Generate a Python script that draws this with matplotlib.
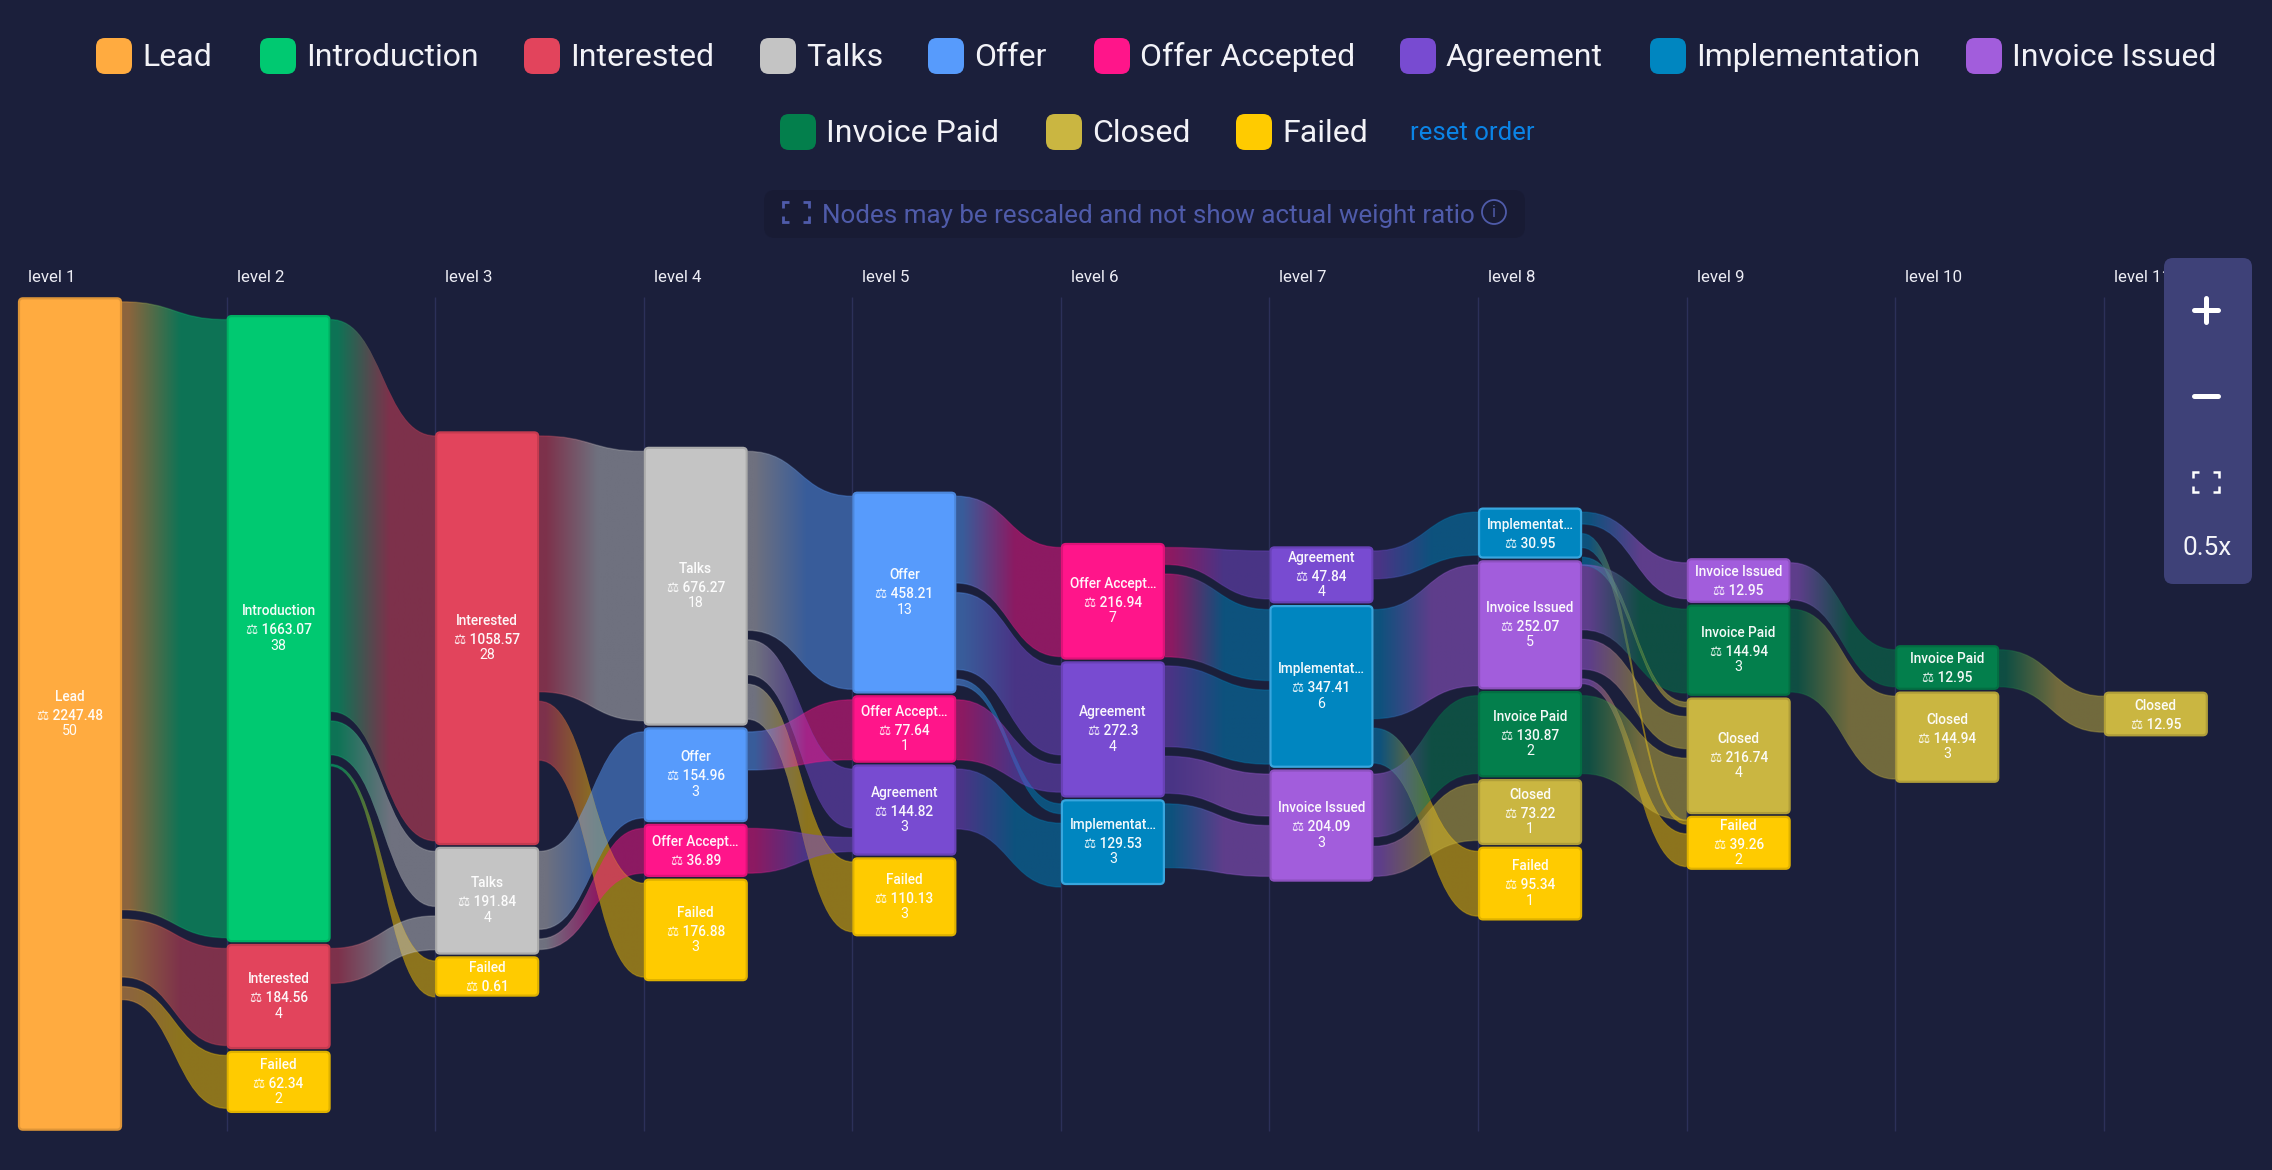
import numpy as np
import matplotlib
matplotlib.use("Agg")
import matplotlib.pyplot as plt
from matplotlib.colors import to_rgb
from matplotlib.patches import FancyBboxPatch, PathPatch, Circle
from matplotlib.path import Path

# ---------- data ----------
STAGES = ["Lead", "Introduction", "Interested", "Talks", "Offer", "Offer Accepted",
          "Agreement", "Implementation", "Invoice Issued", "Invoice Paid", "Closed", "Failed"]
STAGE_COLORS = ["#FFAB40", "#00C971", "#E2445C", "#C4C4C4", "#579BFC", "#FF158A",
                "#784BD1", "#0086C0", "#A25DDC", "#037F4C", "#CAB641", "#FFCB00"]
SHORT_LABELS = {"Implementation": "Implementat…", "Offer Accepted": "Offer Accept…"}

NODE_LEVEL = [1, 2, 2, 2, 3, 3, 3, 4, 4, 4, 4, 5, 5, 5, 5, 6, 6, 6, 7, 7, 7,
              8, 8, 8, 8, 8, 9, 9, 9, 9, 10, 10, 11]
NODE_STAGE = ["Lead",
              "Introduction", "Interested", "Failed",
              "Interested", "Talks", "Failed",
              "Talks", "Offer", "Offer Accepted", "Failed",
              "Offer", "Offer Accepted", "Agreement", "Failed",
              "Offer Accepted", "Agreement", "Implementation",
              "Agreement", "Implementation", "Invoice Issued",
              "Implementation", "Invoice Issued", "Invoice Paid", "Closed", "Failed",
              "Invoice Issued", "Invoice Paid", "Closed", "Failed",
              "Invoice Paid", "Closed",
              "Closed"]
NODE_VALUE = [2247.48,
              1663.07, 184.56, 62.34,
              1058.57, 191.84, 0.61,
              676.27, 154.96, 36.89, 176.88,
              458.21, 77.64, 144.82, 110.13,
              216.94, 272.3, 129.53,
              47.84, 347.41, 204.09,
              30.95, 252.07, 130.87, 73.22, 95.34,
              12.95, 144.94, 216.74, 39.26,
              12.95, 144.94,
              12.95]
NODE_COUNT = [50,
              38, 4, 2,
              28, 4, None,
              18, 3, None, 3,
              13, 1, 3, 3,
              7, 4, 3,
              4, 6, 3,
              None, 5, 2, 1, 1,
              None, 3, 4, 2,
              None, 3,
              None]

# flows: source level, from, to, weight leaving the source, weight arriving at the target
LINK_LEVEL = [1, 1, 1,
              2, 2, 2, 2,
              3, 3, 3, 3,
              4, 4, 4, 4, 4,
              5, 5, 5, 5, 5,
              6, 6, 6, 6, 6,
              7, 7, 7, 7, 7,
              8, 8, 8, 8, 8, 8, 8,
              9, 9,
              10]
LINK_FROM = ["Lead", "Lead", "Lead",
             "Introduction", "Introduction", "Introduction", "Interested",
             "Interested", "Interested", "Talks", "Talks",
             "Talks", "Talks", "Talks", "Offer", "Offer Accepted",
             "Offer", "Offer", "Offer", "Offer Accepted", "Agreement",
             "Offer Accepted", "Offer Accepted", "Agreement", "Agreement", "Implementation",
             "Agreement", "Implementation", "Implementation", "Invoice Issued", "Invoice Issued",
             "Implementation", "Implementation", "Implementation", "Invoice Issued",
             "Invoice Issued", "Invoice Issued", "Invoice Paid",
             "Invoice Issued", "Invoice Paid",
             "Invoice Paid"]
LINK_TO = ["Introduction", "Interested", "Failed",
           "Interested", "Talks", "Failed", "Talks",
           "Talks", "Failed", "Offer", "Offer Accepted",
           "Offer", "Agreement", "Failed", "Offer Accepted", "Agreement",
           "Offer Accepted", "Agreement", "Implementation", "Agreement", "Implementation",
           "Agreement", "Implementation", "Implementation", "Invoice Issued", "Invoice Issued",
           "Implementation", "Invoice Issued", "Failed", "Invoice Paid", "Closed",
           "Invoice Issued", "Failed", "Closed", "Invoice Paid", "Closed", "Failed", "Closed",
           "Invoice Paid", "Closed",
           "Closed"]
LINK_OUT = [1722, 164, 37,
            1110, 96, 5, 99,
            725, 167, 221, 30,
            507, 99, 99, 108, 127,
            246, 218, 17, 170, 170,
            48, 235, 229, 105, 181,
            79, 309, 99, 178, 85,
            34, 40, 23, 184, 85, 14, 221,
            105, 235,
            105]
LINK_IN = [1751, 275, 150,
           1147, 156, 102, 96,
           763, 266, 244, 127,
           547, 167, 198, 170, 40,
           309, 252, 28, 79, 181,
           136, 201, 210, 119, 144,
           122, 343, 184, 221, 161,
           102, 11, 14, 238, 91, 93, 176,
           105, 235,
           102]

LEVEL_LABELS = [f"level {i}" for i in range(1, 12)]

# ---------- layout and style ----------
BG = "#1B1F3B"
W, H = 2272, 1170
X0, STEP, NODE_W = 18.0, 208.58, 104.0
CENTER_Y = 714.0
MIN_H, PX_PER_WEIGHT = 40.0, 0.353
NODE_GAP, INSET, LINK_GAP = 1.8, 4.5, 9.5
LINK_ALPHA = 0.5
COLOR = dict(zip(STAGES, STAGE_COLORS))
UI_FONT = ["Roboto", "DejaVu Sans"]
plt.rcParams["font.family"] = UI_FONT

fig = plt.figure(figsize=(W / 100, H / 100), dpi=100, facecolor=BG)
ax = fig.add_axes([0, 0, 1, 1])
ax.set_facecolor(BG)
ax.axis("off")


def edge_color(stage):
    if stage == "Implementation":
        return "#38A6DE"
    r = np.array(to_rgb(COLOR[stage])) * 0.87
    return tuple(r)


def level_x(level):
    return X0 + (level - 1) * STEP


# vertical level rules
for lv in range(2, 12):
    ax.plot([level_x(lv)] * 2, [297, 1131], color="#2C3059", lw=1.0, zorder=1,
            solid_capstyle="butt")

# node stacks: each level is centred on the same line
heights = [MIN_H + PX_PER_WEIGHT * v for v in NODE_VALUE]
node_pos = {}
for lv in range(1, 12):
    idx = [i for i, l in enumerate(NODE_LEVEL) if l == lv]
    total = sum(heights[i] for i in idx) + NODE_GAP * (len(idx) - 1)
    y = CENTER_Y - total / 2
    for i in idx:
        node_pos[(lv, NODE_STAGE[i])] = (y, heights[i], i)
        y += heights[i] + NODE_GAP

cursor_out = {k: v[0] + INSET for k, v in node_pos.items()}
cursor_in = {k: v[0] + INSET for k, v in node_pos.items()}


def gradient(c0, c1, alpha, n=128):
    t = np.linspace(0, 1, n)
    f = np.clip((t - 0.06) / 0.50, 0, 1)[:, None]
    rgb = np.array(to_rgb(c0)) * (1 - f) + np.array(to_rgb(c1)) * f
    rgba = np.concatenate([rgb, np.full((n, 1), alpha)], axis=1)
    return rgba[None, :, :]


def band(xa, xb, ya0, ya1, yb0, yb1):
    xm = (xa + xb) / 2
    verts = [(xa, ya0), (xm, ya0), (xm, yb0), (xb, yb0),
             (xb, yb1), (xm, yb1), (xm, ya1), (xa, ya1), (xa, ya0)]
    codes = [Path.MOVETO, Path.CURVE4, Path.CURVE4, Path.CURVE4,
             Path.LINETO, Path.CURVE4, Path.CURVE4, Path.CURVE4, Path.CLOSEPOLY]
    return Path(verts, codes)


def paint(path, c0, c1, alpha, xa, xb, ytop, ybot, z):
    im = ax.imshow(gradient(c0, c1, alpha), extent=[xa, xb, ybot, ytop],
                   aspect="auto", interpolation="bilinear", zorder=z)
    patch = PathPatch(path, transform=ax.transData, fc="none", ec="none")
    im.set_clip_path(patch)


for lv, a, b, w_out, w_in in zip(LINK_LEVEL, LINK_FROM, LINK_TO, LINK_OUT, LINK_IN):
    src, dst = (lv, a), (lv + 1, b)
    xa = level_x(lv) + NODE_W
    xb = level_x(lv + 1)
    t_out, t_in = w_out * PX_PER_WEIGHT, w_in * PX_PER_WEIGHT
    ya0, yb0 = cursor_out[src], cursor_in[dst]
    ya1, yb1 = ya0 + t_out, yb0 + t_in
    cursor_out[src] = ya1 + LINK_GAP
    cursor_in[dst] = yb1 + LINK_GAP
    ytop, ybot = min(ya0, yb0) - 3, max(ya1, yb1) + 3
    paint(band(xa, xb, ya0, ya1, yb0, yb1), COLOR[a], COLOR[b], LINK_ALPHA, xa, xb, ytop, ybot, 2)
    # soft lighter rim along both edges
    for ea, eb in ((ya0, yb0), (ya1, yb1)):
        paint(band(xa, xb, ea - 0.7, ea + 0.7, eb - 0.7, eb + 0.7), COLOR[a], COLOR[b], 0.3,
              xa, xb, ytop, ybot, 2.1)

# nodes and their labels
for (lv, stage), (y, h, i) in node_pos.items():
    x = level_x(lv)
    ax.add_patch(FancyBboxPatch((x + 1, y + 1), NODE_W - 2, h - 2,
                                boxstyle="round,pad=0,rounding_size=4",
                                fc=COLOR[stage], ec=edge_color(stage), lw=1.6, zorder=4,
                                mutation_aspect=1))
    cx, cy = x + NODE_W / 2, y + h / 2 + 1.2
    name = SHORT_LABELS.get(stage, stage)
    val = f"⚖ {NODE_VALUE[i]:g}"
    cnt = NODE_COUNT[i]
    if cnt is None:
        offs = [(-9.5, name, 9.8, 500), (9.5, val, 9.8, 500)]
    else:
        offs = [(-18.5, name, 9.8, 500), (0.5, val, 9.8, 500), (16, str(cnt), 10.2, 400)]
    for dy, s, fs, wt in offs:
        ax.text(cx, cy + dy, s, color="white", fontsize=fs, fontweight=wt, ha="center",
                va="center", family=UI_FONT, zorder=5, alpha=0.96)

# level captions
for lv, lab in zip(range(1, 12), LEVEL_LABELS):
    ax.text(28 + (lv - 1) * STEP, 277, lab, color="#ECECF4", fontsize=12.2, ha="left",
            va="center", zorder=6)

# legend
LEGEND_ROW1 = [96, 260, 524, 760, 928, 1094, 1400, 1650, 1966]
LEGEND_ROW2 = [780, 1046, 1236]
legend_slots = [(x, 38) for x in LEGEND_ROW1] + [(x, 114) for x in LEGEND_ROW2]
for stage, (x, y) in zip(STAGES, legend_slots):
    ax.add_patch(FancyBboxPatch((x, y), 36, 36, boxstyle="round,pad=0,rounding_size=9",
                                fc=COLOR[stage], ec="none", zorder=6))
    ax.text(x + 46, y + 16.5, stage, color="#F2F2F7", fontsize=23, ha="left", va="center_baseline",
            zorder=6)
ax.text(1410, 130, "reset order", color="#0B84E6", fontsize=18.5, ha="left", va="center_baseline",
        zorder=6)

# rescale notice
NOTE = "#4F5BAA"
ax.add_patch(FancyBboxPatch((764, 190), 761, 48, boxstyle="round,pad=0,rounding_size=11",
                            fc="#181B34", ec="none", zorder=6))
ax.text(822, 213, "Nodes may be rescaled and not show actual weight ratio", color=NOTE,
        fontsize=18.7, ha="left", va="center_baseline", zorder=7)
ax.add_patch(Circle((1494, 212), 12, fc="none", ec=NOTE, lw=1.3, zorder=7))
ax.text(1494, 212.5, "i", color=NOTE, fontsize=12, ha="center", va="center", zorder=7)


def brackets(xc, yc, hw, hh, arm, color, lw, z):
    for sx in (-1, 1):
        for sy in (-1, 1):
            ax.plot([xc + sx * (hw - arm), xc + sx * hw, xc + sx * hw],
                    [yc + sy * hh, yc + sy * hh, yc + sy * (hh - arm)],
                    color=color, lw=lw, solid_capstyle="butt", solid_joinstyle="miter", zorder=z)


brackets(796, 212, 13, 10, 6, NOTE, 2.0, 7)

# zoom panel
ax.add_patch(FancyBboxPatch((2164, 258), 88, 326, boxstyle="round,pad=0,rounding_size=9",
                            fc="#3E4178", ec="none", zorder=8))
ax.plot([2194, 2218], [310, 310], color="white", lw=3.6, solid_capstyle="round", zorder=9)
ax.plot([2206, 2206], [298, 322], color="white", lw=3.6, solid_capstyle="round", zorder=9)
ax.plot([2194, 2218], [396, 396], color="white", lw=3.6, solid_capstyle="round", zorder=9)
brackets(2206, 482, 13, 10, 6, "white", 1.8, 9)
ax.text(2207, 548, "0.5x", color="#F4F4F8", fontsize=18.8, ha="center", va="center", zorder=9)

ax.set_xlim(0, W)
ax.set_ylim(H, 0)
fig.savefig("out.png", dpi=100, facecolor=BG)
